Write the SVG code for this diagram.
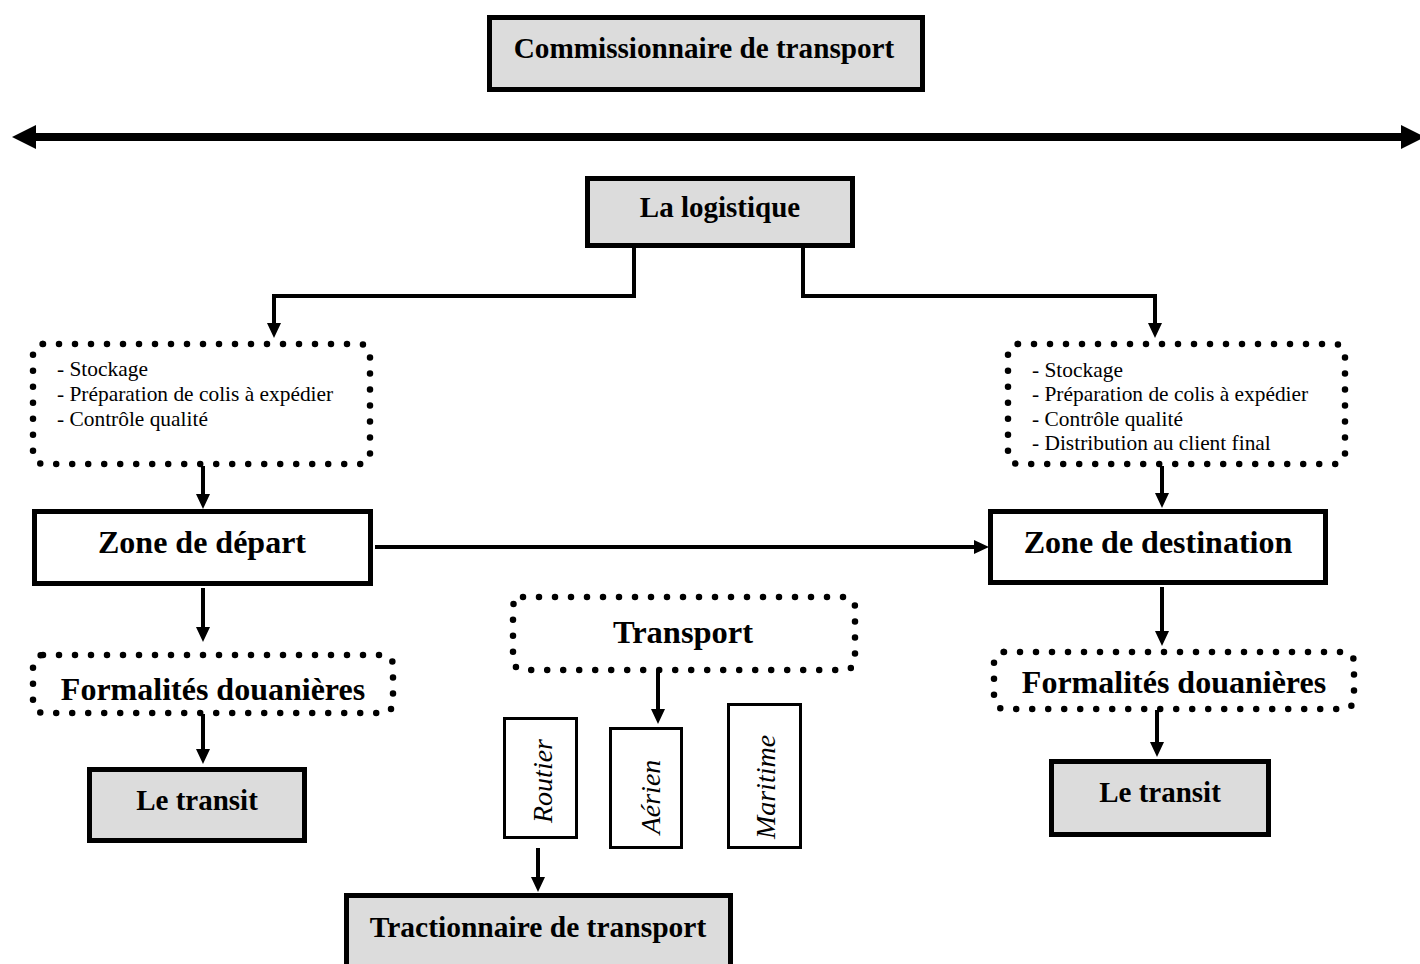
<svg xmlns="http://www.w3.org/2000/svg" width="1420" height="964" viewBox="0 0 1420 964">
<style>
text{font-family:"Liberation Serif","Times New Roman",serif;fill:#000}
.b{font-weight:bold;text-anchor:middle}
.box{stroke:#000;stroke-width:5;fill:#fff}
.g{fill:#dcdcdc}
.thin{stroke:#000;stroke-width:3;fill:#fff}
.dot{fill:none;stroke:#000;stroke-width:6.5;stroke-dasharray:0 16;stroke-linecap:round}
.ln{fill:none;stroke:#000;stroke-width:4}
.it{font-style:italic;text-anchor:middle;font-size:28px}
.li{font-size:21.4px}
</style>
<defs>
<marker id="ah" markerUnits="userSpaceOnUse" markerWidth="16" markerHeight="16" refX="1" refY="7" orient="auto">
<path d="M0,0 L15,7 L0,14 z" fill="#000"/>
</marker>
<marker id="bh" markerUnits="userSpaceOnUse" markerWidth="26" markerHeight="26" refX="1" refY="12" orient="auto-start-reverse">
<path d="M0,0 L24,12 L0,24 z" fill="#000"/>
</marker>
</defs>

<g id="connectors">
<line x1="35" y1="137" x2="1402" y2="137" stroke="#000" stroke-width="8" marker-start="url(#bh)" marker-end="url(#bh)"/>
<path class="ln" d="M634,248 V296 H274 V324" marker-end="url(#ah)"/>
<path class="ln" d="M803,248 V296 H1155 V324" marker-end="url(#ah)"/>
<path class="ln" d="M203,466 V495" marker-end="url(#ah)"/>
<path class="ln" d="M375,547 H975" marker-end="url(#ah)"/>
<path class="ln" d="M203,588 V628" marker-end="url(#ah)"/>
<path class="ln" d="M203,714 V750" marker-end="url(#ah)"/>
<path class="ln" d="M1162,466 V494" marker-end="url(#ah)"/>
<path class="ln" d="M1162,587 V632" marker-end="url(#ah)"/>
<path class="ln" d="M1157,710 V743" marker-end="url(#ah)"/>
<path class="ln" d="M658,671 V710" marker-end="url(#ah)"/>
<path class="ln" d="M538,848 V878" marker-end="url(#ah)"/>
</g>

<g id="commissionnaire">
<rect class="box g" x="489.5" y="17.5" width="433" height="72"/>
<text class="b" x="704" y="58" font-size="29.2">Commissionnaire de transport</text>
</g>

<g id="logistique">
<rect class="box g" x="587.5" y="178.5" width="265" height="67"/>
<text class="b" x="720" y="217" font-size="29">La logistique</text>
</g>

<g id="taches-depart">
<rect class="dot" x="33" y="344" width="337" height="120" rx="10"/>
<text class="li" x="57" y="376">- Stockage</text>
<text class="li" x="57" y="401">- Préparation de colis à expédier</text>
<text class="li" x="57" y="426">- Contrôle qualité</text>
</g>

<g id="taches-destination">
<rect class="dot" x="1008" y="344" width="337" height="120" rx="10"/>
<text class="li" x="1032" y="377">- Stockage</text>
<text class="li" x="1032" y="401">- Préparation de colis à expédier</text>
<text class="li" x="1032" y="426">- Contrôle qualité</text>
<text class="li" x="1032" y="450">- Distribution au client final</text>
</g>

<g id="zone-depart">
<rect class="box" x="34.5" y="511.5" width="336" height="72"/>
<text class="b" x="202" y="553" font-size="32">Zone de départ</text>
</g>

<g id="zone-destination">
<rect class="box" x="990.5" y="511.5" width="335" height="71"/>
<text class="b" x="1158" y="553" font-size="32">Zone de destination</text>
</g>

<g id="formalites-depart">
<rect class="dot" x="33" y="655" width="360" height="58" rx="10"/>
<text class="b" x="213" y="700" font-size="32">Formalités douanières</text>
</g>

<g id="formalites-destination">
<rect class="dot" x="994" y="652" width="360" height="57" rx="10"/>
<text class="b" x="1174" y="693" font-size="32">Formalités douanières</text>
</g>

<g id="transit-depart">
<rect class="box g" x="89.5" y="769.5" width="215" height="71"/>
<text class="b" x="197" y="810" font-size="29">Le transit</text>
</g>

<g id="transit-destination">
<rect class="box g" x="1051.5" y="761.5" width="217" height="73"/>
<text class="b" x="1160" y="802" font-size="29">Le transit</text>
</g>

<g id="transport">
<rect class="dot" x="513" y="597" width="342" height="73" rx="10"/>
<text class="b" x="683" y="643" font-size="32.5">Transport</text>
</g>

<g id="routier">
<rect class="thin" x="504.5" y="718.5" width="72" height="119"/>
<text class="it" transform="translate(552,781) rotate(-90)">Routier</text>
</g>

<g id="aerien">
<rect class="thin" x="610.5" y="728.5" width="71" height="119"/>
<text class="it" transform="translate(660,797) rotate(-90)">Aérien</text>
</g>

<g id="maritime">
<rect class="thin" x="728.5" y="704.5" width="72" height="143"/>
<text class="it" transform="translate(775,787) rotate(-90)">Maritime</text>
</g>

<g id="tractionnaire">
<rect class="box g" x="346.5" y="895.5" width="384" height="80"/>
<text class="b" x="538" y="937" font-size="29.5">Tractionnaire de transport</text>
</g>
</svg>
